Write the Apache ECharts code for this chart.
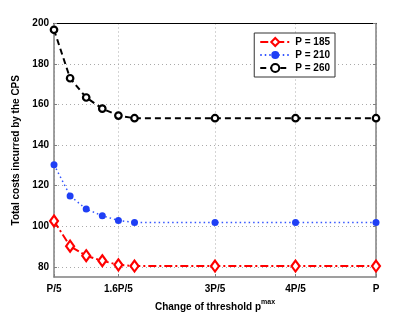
<!DOCTYPE html>
<html><head><meta charset="utf-8">
<script src="https://cdn.jsdelivr.net/npm/echarts@6/dist/echarts.min.js"></script>
<style>html,body{margin:0;padding:0;background:#fff}#c{width:415px;height:313px}</style>
</head><body><div id="c"></div>
<script>
const xValues = [1, 1.2, 1.4, 1.6, 1.8, 2.0, 3, 4, 5];
const xTickValues = [1, 1.8, 3, 4, 5];
const xTickLabels = ['P/5', '1.6P/5', '3P/5', '4P/5', 'P'];
const yTickValues = [80, 100, 120, 140, 160, 180, 200];
const p185 = [102.6, 90.2, 85.5, 83.0, 81.0, 80.4, 80.4, 80.4, 80.4];
const p210 = [130.4, 115.0, 108.5, 105.2, 102.9, 101.9, 101.9, 101.9, 101.9];
const p260 = [196.9, 173.0, 163.5, 158.0, 154.6, 153.3, 153.3, 153.3, 153.3];
const seriesNames = ['P = 185', 'P = 210', 'P = 260'];

const font = 'Liberation Sans, Arial, sans-serif';
const pair = arr => xValues.map((x, i) => [x, arr[i]]);
const chart = echarts.init(document.getElementById('c'), null, {renderer: 'canvas'});
const labelMap = {};
xTickValues.forEach((v, i) => labelMap[v] = xTickLabels[i]);

chart.setOption({
  animation: false,
  backgroundColor: '#fff',
  grid: {left: 54, right: 39, top: 23.5, bottom: 36, show: false,
         containLabel: false, outerBoundsMode: 'none'},
  legend: {
    right: 80, top: 33, orient: 'vertical', itemGap: 3, itemWidth: 30, itemHeight: 10,
    backgroundColor: '#fff', borderColor: '#333', borderWidth: 1, padding: [4, 5, 4, 5],
    textStyle: {fontFamily: font, fontWeight: 'bold', fontSize: 10, color: '#000'},
    data: seriesNames
  },
  xAxis: [{
    type: 'value', min: 1, max: 5,
    name: '{b|Change of threshold p}{s|max}', nameLocation: 'middle', nameGap: 21,
    nameTextStyle: {
      fontFamily: font, fontWeight: 'bold', fontSize: 10, color: '#000',
      rich: {
        b: {fontFamily: font, fontWeight: 'bold', fontSize: 10, color: '#000'},
        s: {fontFamily: font, fontWeight: 'bold', fontSize: 7, color: '#000', padding: [0, 0, 9, 0]}
      }
    },
    axisLine: {lineStyle: {color: '#808080', width: 1.5}},
    axisTick: {inside: true, length: 3, customValues: xTickValues, lineStyle: {color: '#808080'}},
    axisLabel: {customValues: xTickValues, formatter: v => labelMap[v] || '', fontFamily: font, fontWeight: 'bold', fontSize: 10, color: '#000', margin: 7},
    splitLine: {show: true, lineStyle: {type: [1, 3], color: '#aaa', width: 1}}
  }, {
    type: 'value', min: 1, max: 5, position: 'top',
    axisLine: {show: true, lineStyle: {color: '#000', width: 1}},
    axisTick: {show: false}, axisLabel: {show: false}, splitLine: {show: false}
  }],
  yAxis: [{
    type: 'value', min: 75, max: 200,
    name: 'Total costs incurred by the CPS', nameLocation: 'middle', nameGap: 29,
    nameTextStyle: {fontFamily: font, fontWeight: 'bold', fontSize: 10, color: '#000'},
    axisLine: {show: true, lineStyle: {color: '#808080', width: 1.5}},
    axisTick: {show: true, inside: true, length: 3, customValues: yTickValues, lineStyle: {color: '#808080'}},
    axisLabel: {customValues: yTickValues, fontFamily: font, fontWeight: 'bold', fontSize: 10, color: '#000', margin: 5},
    splitLine: {show: true, lineStyle: {type: [1, 3], color: '#aaa', width: 1}}
  }, {
    type: 'value', min: 75, max: 200, position: 'right',
    axisLine: {show: true, lineStyle: {color: '#808080', width: 1.5}},
    axisTick: {show: true, inside: true, length: 3, customValues: yTickValues, lineStyle: {color: '#808080'}},
    axisLabel: {show: false}, splitLine: {show: false}
  }],
  series: [
    {
      name: seriesNames[0], type: 'line', data: pair(p185), z: 3,
      symbol: 'diamond', symbolSize: [8, 11],
      itemStyle: {color: '#fff', borderColor: '#ff0000', borderWidth: 2.2},
      lineStyle: {color: '#ff0000', width: 2, type: [8, 3, 2, 3]}
    },
    {
      name: seriesNames[1], type: 'line', data: pair(p210), z: 3,
      symbol: 'circle', symbolSize: 7,
      itemStyle: {color: '#1f3ff5', borderColor: '#1f3ff5', borderWidth: 0},
      lineStyle: {color: '#3355ff', width: 1.5, type: [1.5, 3]}
    },
    {
      name: seriesNames[2], type: 'line', data: pair(p260), z: 3,
      symbol: 'circle', symbolSize: 6.5,
      itemStyle: {color: '#fff', borderColor: '#000', borderWidth: 2.2},
      lineStyle: {color: '#000', width: 2, type: [6, 4]}
    }
  ]
});
</script></body></html>
